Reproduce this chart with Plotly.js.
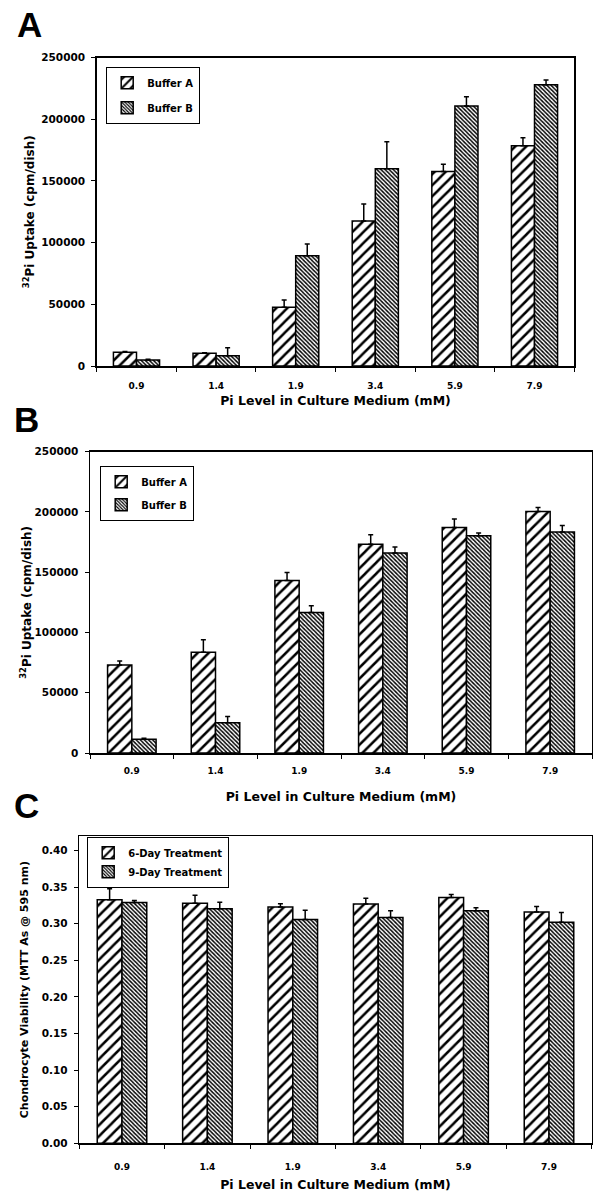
<!DOCTYPE html>
<html><head><meta charset="utf-8">
<script src="https://cdn.plot.ly/plotly-3.0.1.min.js"></script>
<style>html,body{margin:0;padding:0;background:#fff}#chart{width:593px;height:1192px}</style>
</head><body><div id="chart"></div>
<script>
// ---- data ----
const categories = ['0.9', '1.4', '1.9', '3.4', '5.9', '7.9'];
const xTitle = 'Pi Level in Culture Medium (mM)';

const seriesNamesAB = ['Buffer A', 'Buffer B'];
const seriesNamesC = ['6-Day Treatment', '9-Day Treatment'];

const panelA_bufferA = [11100, 10300, 47600, 117500, 157700, 178500];
const panelA_bufferA_err = [700, 500, 5900, 13800, 5700, 6500];
const panelA_bufferB = [4900, 8400, 89400, 159900, 210700, 228000];
const panelA_bufferB_err = [500, 6400, 9500, 21900, 7500, 3700];

const panelB_bufferA = [73100, 83600, 143100, 173300, 187100, 200400];
const panelB_bufferA_err = [3300, 10300, 6700, 7800, 7000, 3300];
const panelB_bufferB = [11400, 25200, 116500, 165900, 180200, 183300];
const panelB_bufferB_err = [800, 5000, 5600, 5000, 2300, 5500];

const panelC_day6 = [0.333, 0.328, 0.323, 0.327, 0.336, 0.316];
const panelC_day6_err = [0.015, 0.011, 0.0045, 0.008, 0.004, 0.0077];
const panelC_day9 = [0.329, 0.3205, 0.306, 0.3085, 0.318, 0.302];
const panelC_day9_err = [0.003, 0.009, 0.0125, 0.0095, 0.004, 0.0133];

const yTitleAB = '<sup>32</sup>Pi Uptake (cpm/dish)';
const yTitleC = 'Chondrocyte Viability (MTT As @ 595 nm)';

// ---- styling helpers ----
const W = 593, H = 1192;
const noDown = categories.map(() => 0);
const px = v => v / W;
const py = v => 1 - v / H;
const BOLD = 'DejaVu Sans';

const patA = {shape: '/', size: 7.8, solidity: 0.32, fgcolor: '#000', bgcolor: '#fff', fillmode: 'replace'};
const patB = {shape: '\\', size: 2.9, solidity: 0.5, fgcolor: '#000', bgcolor: '#fff', fillmode: 'replace'};

function barTrace(name, y, err, pat, xa, ya, leg) {
  return {
    type: 'bar', name: name, x: categories, y: y,
    xaxis: xa, yaxis: ya, legend: leg, legendgroup: leg + name,
    marker: {color: '#fff', pattern: pat, line: {color: '#000', width: 1.5}},
    error_y: {type: 'data', symmetric: false, array: err, arrayminus: noDown,
              color: '#000', thickness: 1.5, width: 2.5},
    hoverinfo: 'x+y'
  };
}

const data = [
  barTrace(seriesNamesAB[0], panelA_bufferA, panelA_bufferA_err, patA, 'x', 'y', 'legend'),
  barTrace(seriesNamesAB[1], panelA_bufferB, panelA_bufferB_err, patB, 'x', 'y', 'legend'),
  barTrace(seriesNamesAB[0], panelB_bufferA, panelB_bufferA_err, patA, 'x2', 'y2', 'legend2'),
  barTrace(seriesNamesAB[1], panelB_bufferB, panelB_bufferB_err, patB, 'x2', 'y2', 'legend2'),
  barTrace(seriesNamesC[0], panelC_day6, panelC_day6_err, patA, 'x3', 'y3', 'legend3'),
  barTrace(seriesNamesC[1], panelC_day9, panelC_day9_err, patB, 'x3', 'y3', 'legend3')
];

function xAxis(l, r, anchor, standoffLbl, titleStandoff) {
  return {
    domain: [px(l), px(r)], anchor: anchor, type: 'category',
    tickson: 'boundaries', ticks: 'outside', ticklen: 4, tickwidth: 1, tickcolor: '#000',
    showline: true, linecolor: '#000', linewidth: 1.5, mirror: true,
    showgrid: false, zeroline: false, ticklabelstandoff: standoffLbl,
    tickfont: {family: BOLD, size: 9, weight: 'bold', color: '#000'},
    title: {text: xTitle, standoff: titleStandoff, font: {family: BOLD, size: 12.5, weight: 'bold', color: '#000'}},
    fixedrange: true
  };
}
function yAxis(t, b, anchor, range, dtick, fmt, title, tsize, standoff) {
  return {
    domain: [py(b), py(t)], anchor: anchor, range: range, dtick: dtick, tick0: 0, tickformat: fmt,
    ticks: 'outside', ticklen: 4, tickwidth: 1, tickcolor: '#000',
    showline: true, linecolor: '#000', linewidth: 1.5, mirror: true,
    showgrid: false, zeroline: false, ticklabelstandoff: 4,
    tickfont: {family: BOLD, size: 10.5, weight: 'bold', color: '#000'},
    title: {text: title, standoff: standoff, font: {family: BOLD, size: tsize, weight: 'bold', color: '#000'}},
    fixedrange: true
  };
}
function legendAt(x, y, gap) {
  return {
    x: px(x), y: py(y), xanchor: 'left', yanchor: 'top',
    bgcolor: '#fff', bordercolor: '#000', borderwidth: 1.2,
    font: {family: BOLD, size: 10, weight: 'bold', color: '#000'},
    tracegroupgap: gap, itemwidth: 30, itemclick: false, itemdoubleclick: false
  };
}
function letter(t, x, y) {
  return {text: t, xref: 'paper', yref: 'paper', x: px(x), y: py(y), xanchor: 'center', yanchor: 'middle',
          showarrow: false, font: {family: 'Liberation Sans', size: 35, weight: 'bold', color: '#000'}};
}

const layout = {
  width: W, height: H, margin: {l: 0, r: 0, t: 0, b: 0},
  paper_bgcolor: '#fff', plot_bgcolor: '#fff',
  barmode: 'group', bargap: 0.42, bargroupgap: 0,
  showlegend: true,
  xaxis: xAxis(96.7, 574.3, 'y', 11, 5.5),
  yaxis: yAxis(57.5, 366, 'x', [0, 250000], 50000, 'd', yTitleAB, 12, 4),
  xaxis2: xAxis(90, 592, 'y2', 9, 17),
  yaxis2: yAxis(451.7, 753, 'x2', [0, 250000], 50000, 'd', yTitleAB, 12, 0),
  xaxis3: xAxis(79.3, 591.7, 'y3', 14, 10),
  yaxis3: yAxis(836, 1143.3, 'x3', [0, 0.42], 0.05, '.2f', yTitleC, 11, 11),
  legend: legendAt(106, 67, 6),
  legend2: legendAt(100, 466, 4),
  legend3: legendAt(87, 837, 0),
  annotations: [letter('A', 29.5, 24.5), letter('B', 26.5, 419), letter('C', 26.5, 805.5)]
};

Plotly.newPlot('chart', data, layout, {displayModeBar: false, staticPlot: true});
</script>
</body></html>
